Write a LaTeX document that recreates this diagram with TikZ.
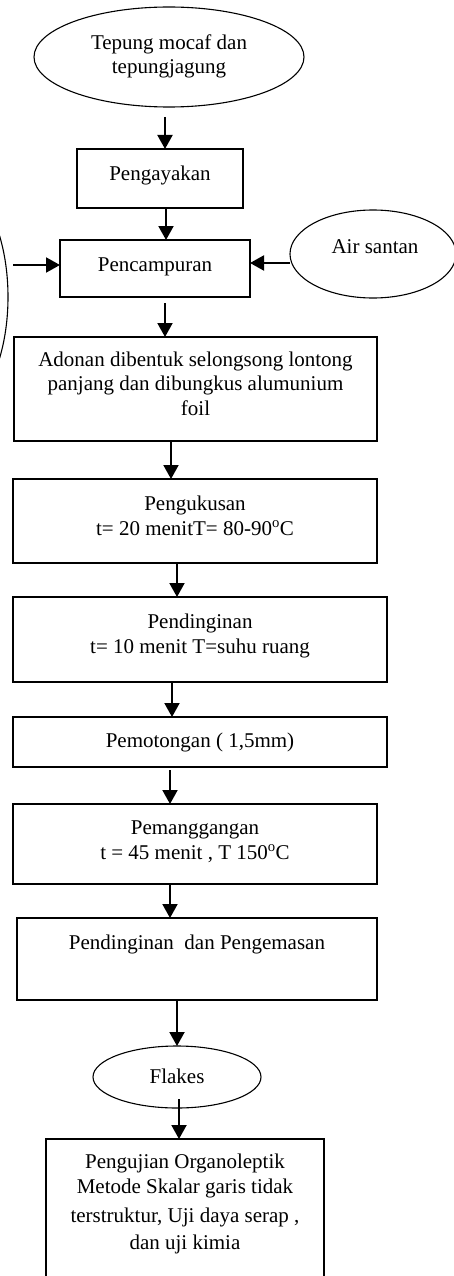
\documentclass[tikz,border=0pt]{standalone}
\usepackage{fontspec}
\setmainfont{Liberation Serif}
\usetikzlibrary{arrows.meta,shapes.geometric}
\begin{document}
\begin{tikzpicture}[x=1pt,y=-1pt,
  box/.style={draw,line width=1.1pt,inner sep=0pt,outer sep=0pt},
  oval/.style={draw,ellipse,line width=1.1pt,inner sep=0pt,outer sep=0pt},
  txt/.style={font=\fontsize{21}{24.5}\selectfont,align=center,inner sep=0pt,anchor=base},
  arr/.style={line width=2pt,-{Triangle[length=14pt,width=15pt]}}]
\clip (0,0) rectangle (454,1276);
\fill[white] (0,0) rectangle (454,1276);
% shapes
\node[oval,minimum width=270pt,minimum height=100pt] (e1) at (169,57) {};
\node[box,minimum width=166pt,minimum height=59pt] (b1) at (160,178.5) {};
\node[box,minimum width=190pt,minimum height=57pt] (b2) at (155,268.5) {};
\node[oval,minimum width=166pt,minimum height=88pt] (e2) at (373,254) {};
\node[oval,minimum width=136pt,minimum height=254pt] (e4) at (-60,297) {};
\node[box,minimum width=363pt,minimum height=104pt] (b3) at (195.5,389) {};
\node[box,minimum width=364pt,minimum height=84pt] (b4) at (195,521) {};
\node[box,minimum width=374pt,minimum height=85pt] (b5) at (200,639.5) {};
\node[box,minimum width=374pt,minimum height=50pt] (b6) at (200,742) {};
\node[box,minimum width=364pt,minimum height=80pt] (b7) at (195,844) {};
\node[box,minimum width=360pt,minimum height=82pt] (b8) at (197,959) {};
\node[oval,minimum width=168pt,minimum height=62pt] (e3) at (177,1077) {};
\node[box,minimum width=278pt,minimum height=151pt] (b9) at (185,1214.5) {};
% texts (anchor=base is the last line's baseline)
\node[txt] (t1) at (169,74) {Tepung mocaf dan\\tepungjagung};
\node[txt] (t2) at (160,181) {Pengayakan};
\node[txt] (t3) at (155,271) {Pencampuran};
\node[txt] (t4) at (375,253) {Air santan};
\node[txt] (t5) at (195.5,415) {Adonan dibentuk selongsong lontong\\panjang dan dibungkus alumunium\\foil};
\node[txt] (t6) at (195,535) {Pengukusan\\t= 20 menitT= 80-90\textsuperscript{o}C};
\node[txt] (t7) at (200,653) {Pendinginan\\t= 10 menit T=suhu ruang};
\node[txt] (t8) at (200,747) {Pemotongan ( 1,5mm)};
\node[txt] (t9) at (195,859) {Pemanggangan\\t = 45 menit , T 150\textsuperscript{o}C};
\node[txt] (t10) at (197,949) {Pendinginan~ dan Pengemasan};
\node[txt] (t11) at (177,1083) {Flakes};
\node[txt] (t12) at (185,1249) {Pengujian Organoleptik\\Metode Skalar garis tidak\\[5pt]terstruktur, Uji daya serap ,\\[2pt]dan uji kimia};
% connectors
\coordinate (ls) at (13,265);
\draw[arr] ([shift={(-4,10)}]e1.south) -- ([shift={(5,0)}]b1.north);
\draw[arr] ([shift={(6,0)}]b1.south) -- ([shift={(11,0)}]b2.north);
\draw[arr] ([shift={(0,9)}]e2.west) -- ([shift={(0,-5.5)}]b2.east);
\draw[arr] (ls) -- ([shift={(0,-3.5)}]b2.west);
\draw[arr] ([shift={(10,6)}]b2.south) -- ([shift={(-30.5,0)}]b3.north);
\draw[arr] ([shift={(-24.5,0)}]b3.south) -- ([shift={(-24,0)}]b4.north);
\draw[arr] ([shift={(-18,0)}]b4.south) -- ([shift={(-23,0)}]b5.north);
\draw[arr] ([shift={(-28,0)}]b5.south) -- ([shift={(-28,0)}]b6.north);
\draw[arr] ([shift={(-30,3)}]b6.south) -- ([shift={(-25,0)}]b7.north);
\draw[arr] ([shift={(-25,0)}]b7.south) -- ([shift={(-27,0)}]b8.north);
\draw[arr] ([shift={(-20,0)}]b8.south) -- (e3.north);
\draw[arr] ([shift={(2,-9)}]e3.south) -- ([shift={(-6,0)}]b9.north);
\end{tikzpicture}
\end{document}
